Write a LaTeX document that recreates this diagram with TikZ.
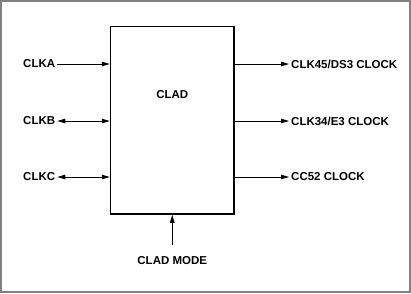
\documentclass[tikz,border=0pt]{standalone}
\usepackage{fontspec}
\setmainfont{Liberation Sans}
\usetikzlibrary{positioning, arrows.meta, calc}

\begin{document}
\begin{tikzpicture}[x=1pt, y=1pt,
    block/.style={rectangle, draw, black, line width=1.5pt, minimum width=123.5pt, minimum height=187.5pt, inner sep=0pt},
    sig/.style={font=\fontsize{11.5}{13}\selectfont\bfseries, inner sep=2pt},
    frame/.style={draw, gray, line width=2pt},
    link/.style={draw, black, line width=0.8pt},
    tip/.tip={Triangle[length=8pt, width=4.5pt]}]

    % --- Frame ---
    \useasboundingbox (0,0) rectangle (411,293);
    \draw[frame] (1,1) rectangle (410,292);

    % --- Block ---
    \node[block] (clad) at (172.25,172.75) {};
    \node[sig] (cladtxt) at (172.25,198) {CLAD};

    % --- Inputs ---
    \node[sig, anchor=west] (clka) at (21,229) {CLKA};
    \node[sig, anchor=west] (clkb) at (21,172) {CLKB};
    \node[sig, anchor=west] (clkc) at (21,116) {CLKC};
    \draw[link, -{tip}] (clka.east) -- (clka -| clad.west);
    \draw[link, {tip}-{tip}] (clkb.east) -- (clkb -| clad.west);
    \draw[link, {tip}-{tip}] (clkc.east) -- (clkc -| clad.west);

    % --- Outputs ---
    \node[sig, anchor=west] (clk45) at (289,229) {CLK45/DS3 CLOCK};
    \node[sig, anchor=west] (clk34) at (289,172) {CLK34/E3 CLOCK};
    \node[sig, anchor=west] (cc52) at (289,116) {CC52 CLOCK};
    \draw[link, -{tip}] (clk45 -| clad.east) -- (clk45.west);
    \draw[link, -{tip}] (clk34 -| clad.east) -- (clk34.west);
    \draw[link, -{tip}] (cc52 -| clad.east) -- (cc52.west);

    % --- Mode ---
    \node[sig] (mode) at (172.25,32) {CLAD MODE};
    \coordinate (modeend) at (172.25,48);
    \draw[link, -{tip}] (modeend) -- (clad.south);

\end{tikzpicture}
\end{document}
